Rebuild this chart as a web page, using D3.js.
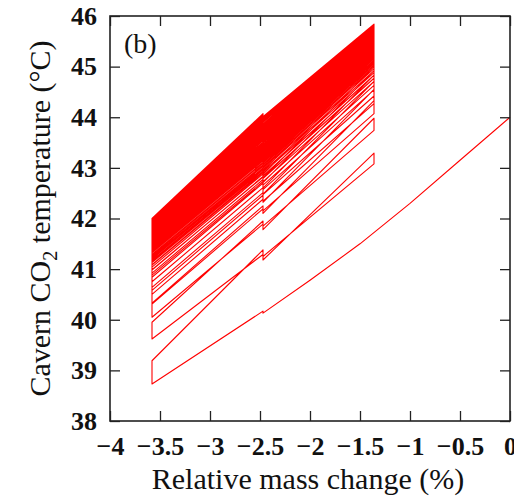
<!DOCTYPE html>
<html>
<head>
<meta charset="utf-8">
<script src="https://cdn.jsdelivr.net/npm/d3@7"></script>
<style>
  html, body { margin: 0; padding: 0; background: #fff; }
  svg { display: block; }
</style>
</head>
<body>
<svg id="chart" width="514" height="501"></svg>
<script>
// ---- data ----
const xTicks = [-4, -3.5, -3, -2.5, -2, -1.5, -1, -0.5, 0];
const yTicks = [38, 39, 40, 41, 42, 43, 44, 45, 46];

// mass-change positions of the cycle turning points (%)
const massLeft = -3.58, massMid = -2.47, massRight = -1.36;

// first withdrawal from the initial state
const firstWithdrawalMass = [0, -0.5, -1.0, -1.5, -2.0, -2.47, -2.47];
const firstWithdrawalTemp = [44.0, 43.15, 42.30, 41.50, 40.78, 40.13, 40.17];

// per-cycle temperatures (°C)
const leftBottom = [38.73, 39.62, 40.05, 40.31, 40.50, 40.64, 40.75, 40.84, 40.92, 40.98, 41.04, 41.09, 41.13, 41.17, 41.20, 41.24, 41.27, 41.29, 41.32, 41.34, 41.36, 41.38, 41.40, 41.42, 41.44, 41.45, 41.46, 41.48, 41.49, 41.50, 41.52, 41.53, 41.54, 41.55, 41.55, 41.57, 41.57, 41.58, 41.59, 41.60, 41.60, 41.61, 41.62, 41.62, 41.63, 41.63, 41.64, 41.64, 41.65, 41.65, 41.65];
const leftTop = [39.19, 39.95, 40.33, 40.58, 40.75, 40.88, 40.99, 41.08, 41.15, 41.22, 41.28, 41.33, 41.37, 41.42, 41.45, 41.49, 41.52, 41.55, 41.58, 41.60, 41.63, 41.65, 41.67, 41.69, 41.71, 41.73, 41.74, 41.76, 41.78, 41.79, 41.81, 41.82, 41.83, 41.85, 41.86, 41.87, 41.88, 41.89, 41.90, 41.91, 41.92, 41.93, 41.94, 41.95, 41.96, 41.97, 41.98, 41.98, 41.99, 42.00];
const midInjArrive = [41.38, 41.95, 42.25, 42.46, 42.61, 42.73, 42.82, 42.91, 42.98, 43.05, 43.11, 43.16, 43.20, 43.25, 43.29, 43.33, 43.36, 43.39, 43.43, 43.46, 43.49, 43.51, 43.54, 43.56, 43.59, 43.61, 43.63, 43.66, 43.68, 43.70, 43.72, 43.74, 43.76, 43.77, 43.79, 43.81, 43.83, 43.85, 43.86, 43.88, 43.90, 43.92, 43.93, 43.95, 43.97, 43.99, 44.01, 44.03, 44.05, 44.07];
const midInjLeave = [41.18, 41.78, 42.10, 42.32, 42.48, 42.60, 42.71, 42.80, 42.87, 42.94, 43.00, 43.06, 43.10, 43.15, 43.20, 43.24, 43.27, 43.31, 43.34, 43.37, 43.40, 43.43, 43.46, 43.49, 43.51, 43.53, 43.56, 43.58, 43.61, 43.63, 43.65, 43.67, 43.69, 43.71, 43.73, 43.75, 43.77, 43.79, 43.80, 43.82, 43.84, 43.86, 43.87, 43.90, 43.91, 43.93, 43.95, 43.97, 43.99, 44.01];
const rightTop = [43.29, 43.98, 44.33, 44.55, 44.71, 44.83, 44.92, 45.00, 45.07, 45.13, 45.19, 45.23, 45.27, 45.31, 45.34, 45.38, 45.40, 45.43, 45.46, 45.48, 45.50, 45.52, 45.54, 45.56, 45.58, 45.59, 45.61, 45.62, 45.64, 45.65, 45.66, 45.68, 45.69, 45.70, 45.71, 45.72, 45.73, 45.74, 45.75, 45.76, 45.77, 45.78, 45.79, 45.80, 45.80, 45.81, 45.82, 45.83, 45.83, 45.84];
const rightBottom = [43.08, 43.74, 44.07, 44.27, 44.42, 44.54, 44.63, 44.71, 44.77, 44.83, 44.88, 44.92, 44.96, 45.00, 45.03, 45.06, 45.09, 45.11, 45.13, 45.16, 45.18, 45.20, 45.22, 45.23, 45.25, 45.27, 45.28, 45.29, 45.31, 45.32, 45.33, 45.35, 45.36, 45.37, 45.38, 45.39, 45.40, 45.41, 45.42, 45.43, 45.44, 45.44, 45.45, 45.46, 45.47, 45.47, 45.48, 45.49, 45.49, 45.50];
const midWdrArrive = [41.25, 41.85, 42.15, 42.34, 42.47, 42.57, 42.66, 42.73, 42.79, 42.84, 42.89, 42.92, 42.96, 42.99, 43.02, 43.05, 43.07, 43.10, 43.12, 43.14, 43.16, 43.18, 43.19, 43.21, 43.22, 43.24, 43.25, 43.26, 43.28, 43.29, 43.30, 43.31, 43.32, 43.33, 43.34, 43.35, 43.36, 43.37, 43.37, 43.38, 43.39, 43.40, 43.40, 43.41, 43.42, 43.43, 43.43, 43.44, 43.44, 43.45];
const midWdrLeave = [41.29, 41.89, 42.19, 42.38, 42.51, 42.61, 42.70, 42.77, 42.83, 42.88, 42.93, 42.96, 43.00, 43.03, 43.06, 43.09, 43.11, 43.14, 43.16, 43.18, 43.20, 43.22, 43.23, 43.25, 43.26, 43.28, 43.29, 43.30, 43.32, 43.33, 43.34, 43.35, 43.36, 43.37, 43.38, 43.39, 43.40, 43.41, 43.41, 43.42, 43.43, 43.44, 43.44, 43.45, 43.46, 43.47, 43.47, 43.48, 43.48, 43.49];

// ---- build trajectory ----
const pts = [];
firstWithdrawalMass.forEach((m, i) => pts.push([m, firstWithdrawalTemp[i]]));
pts.push([massLeft, leftBottom[0]]);
for (let k = 0; k < leftTop.length; k++) {
  pts.push([massLeft, leftTop[k]]);
  pts.push([massMid, midInjArrive[k]]);
  pts.push([massMid, midInjLeave[k]]);
  pts.push([massRight, rightTop[k]]);
  pts.push([massRight, rightBottom[k]]);
  pts.push([massMid, midWdrArrive[k]]);
  pts.push([massMid, midWdrLeave[k]]);
  pts.push([massLeft, leftBottom[k + 1]]);
}

// ---- layout ----
const svg = d3.select("#chart");
const L = 110, R = 510, T = 16, B = 421;
const x = d3.scaleLinear().domain([-4, 0]).range([L, R]);
const y = d3.scaleLinear().domain([38, 46]).range([B, T]);
const serif = "Liberation Serif";

// data line
svg.append("path")
  .datum(pts)
  .attr("fill", "none")
  .attr("stroke", "#ff0000")
  .attr("stroke-width", 1.1)
  .attr("stroke-linejoin", "round")
  .attr("d", d3.line().x(d => x(d[0])).y(d => y(d[1])));

// axes with inward ticks
const tl = 10;
const axB = svg.append("g").attr("transform", `translate(0,${B})`)
  .call(d3.axisBottom(x).tickValues(xTicks).tickSizeInner(-tl).tickSizeOuter(0).tickPadding(tl + 6)
    .tickFormat(d => d === 0 ? "0" : String(d).replace("-", "\u2212")));
const axT = svg.append("g").attr("transform", `translate(0,${T})`)
  .call(d3.axisTop(x).tickValues(xTicks).tickSizeInner(-tl).tickSizeOuter(0).tickFormat(""));
const axLft = svg.append("g").attr("transform", `translate(${L},0)`)
  .call(d3.axisLeft(y).tickValues(yTicks).tickSizeInner(-tl).tickSizeOuter(0).tickPadding(tl + 3).tickFormat(d3.format("d")));
const axRgt = svg.append("g").attr("transform", `translate(${R},0)`)
  .call(d3.axisRight(y).tickValues(yTicks).tickSizeInner(-tl).tickSizeOuter(0).tickFormat(""));

[axB, axT, axLft, axRgt].forEach(a => {
  a.attr("font-family", serif).attr("font-size", 26).attr("font-weight", "bold");
  a.select(".domain").remove();
  a.selectAll(".tick line").attr("stroke", "#222").attr("stroke-width", 1.3);
  a.selectAll(".tick text").attr("fill", "#111");
});

// frame
svg.append("rect").attr("x", L).attr("y", T).attr("width", R - L).attr("height", B - T)
  .attr("fill", "none").attr("stroke", "#222").attr("stroke-width", 1.6);

// panel label
svg.append("text").attr("x", 124).attr("y", 53)
  .attr("font-family", serif).attr("font-size", 28).attr("fill", "#111").text("(b)");

// axis titles
svg.append("text").attr("x", (L + R) / 2 - 2).attr("y", 489).attr("text-anchor", "middle")
  .attr("font-family", serif).attr("font-size", 30).attr("fill", "#111")
  .text("Relative mass change (%)");

const yt = svg.append("text")
  .attr("transform", `translate(50,${(T + B) / 2}) rotate(-90)`)
  .attr("text-anchor", "middle")
  .attr("font-family", serif).attr("font-size", 30).attr("fill", "#111");
yt.append("tspan").text("Cavern CO");
yt.append("tspan").attr("font-size", 20).attr("dy", 7).text("2");
yt.append("tspan").attr("dy", -7).text(" temperature (\u00B0C)");
</script>
</body>
</html>
